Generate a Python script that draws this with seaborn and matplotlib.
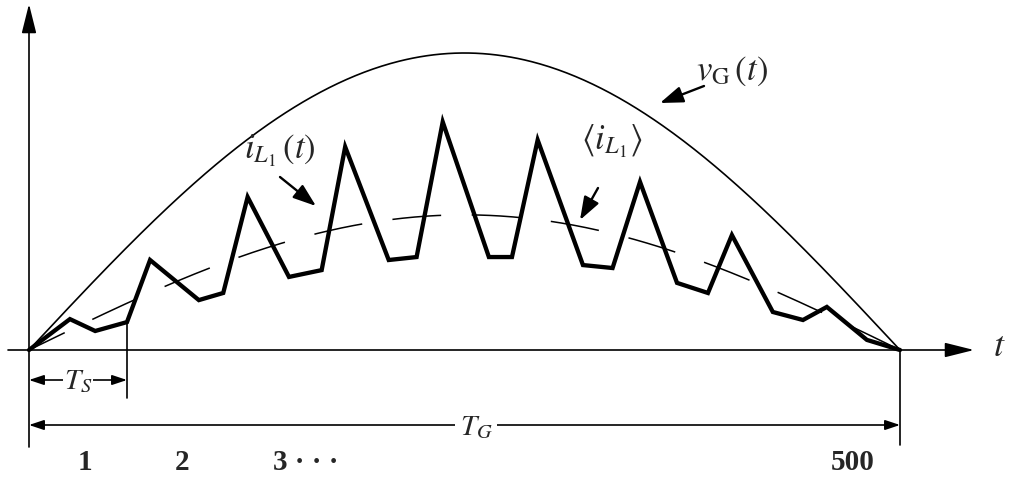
import numpy as np
import matplotlib
matplotlib.use("Agg")
import matplotlib.pyplot as plt
import seaborn as sns

# Inductor current over one half line period, normalised:
# time as a fraction of T_G, amplitude relative to the peak of v_G.
t_zig = [0.000, 0.047, 0.076, 0.1125, 0.139, 0.195, 0.223, 0.251, 0.2985,
         0.336, 0.363, 0.413, 0.445, 0.475, 0.528, 0.5545, 0.584, 0.636,
         0.670, 0.7015, 0.744, 0.7795, 0.807, 0.854, 0.8886, 0.916, 0.962,
         1.000]
i_zig = [0.000, 0.104, 0.064, 0.094, 0.303, 0.168, 0.192, 0.515, 0.246,
         0.269, 0.684, 0.303, 0.313, 0.768, 0.313, 0.313, 0.707, 0.286,
         0.276, 0.566, 0.226, 0.192, 0.387, 0.128, 0.101, 0.145, 0.034,
         0.000]
v_peak = 1.0        # peak of the rectified line voltage
i_avg_peak = 0.455  # peak of the averaged inductor current
period_labels = ["1", "2", "3 \u00b7 \u00b7 \u00b7", "500"]

sns.set_style("white")
plt.rcParams["mathtext.fontset"] = "stix"
plt.rcParams["font.family"] = ["Liberation Serif", "DejaVu Serif"]

# figure geometry: pixel <-> data mapping
W, H = 1014, 482
X0, SX = 29, 871
Y0, SY = 350, 297


def tx(px):
    return (px - X0) / SX


def vy(py):
    return (Y0 - py) / SY


fig = plt.figure(figsize=(W / 100, H / 100), dpi=100)
ax = fig.add_axes([0, 0, 1, 1])
ax.set_xlim(tx(0), tx(W))
ax.set_ylim(vy(H), vy(0))
ax.axis("off")

t_curve = np.linspace(0.0, 1.0, 500)
shape = np.sin(np.pi * t_curve)

sns.lineplot(x=t_curve, y=v_peak * shape, color="black", lw=1.2, ax=ax,
             estimator=None, sort=False)
sns.lineplot(x=t_curve, y=i_avg_peak * shape, color="black", lw=1.1, ax=ax,
             estimator=None, sort=False, linestyle=(6, (32, 20)))
sns.lineplot(x=t_zig, y=i_zig, color="black", lw=3.1, ax=ax,
             estimator=None, sort=False, solid_joinstyle="miter")

# coordinate axes with arrow heads
axis_arrow = dict(arrowstyle="-|>,head_length=1.8,head_width=0.45",
                  lw=1.2, color="black", mutation_scale=10,
                  shrinkA=0, shrinkB=0)
ax.annotate("", xy=(tx(974), 0), xytext=(tx(8), 0), arrowprops=axis_arrow)
ax.annotate("", xy=(0, vy(4)), xytext=(0, vy(447)), arrowprops=axis_arrow)
ax.text(tx(999), vy(347), r"$t$", fontsize=26, ha="center", va="center")

# extension lines for the dimension arrows
ax.plot([1, 1], [0, vy(445)], color="black", lw=1.2)
ax.plot([t_zig[3], t_zig[3]], [i_zig[3], vy(398)], color="black", lw=1.2)

dim_arrow = dict(arrowstyle="<|-|>,head_length=0.9,head_width=0.3",
                 lw=1.2, color="black", mutation_scale=10,
                 shrinkA=0, shrinkB=0)
ax.annotate("", xy=(t_zig[3], vy(380)), xytext=(0, vy(380)),
            arrowprops=dim_arrow)
ax.text(tx(78), vy(382), r"$T_S$", fontsize=21, ha="center", va="center",
        bbox=dict(fc="white", ec="none", pad=0.5))
ax.annotate("", xy=(1, vy(425)), xytext=(0, vy(425)), arrowprops=dim_arrow)
ax.text(tx(476), vy(428), r"$T_G$", fontsize=21, ha="center", va="center",
        bbox=dict(fc="white", ec="none", pad=3))

# switching period numbers
for lbl, px in zip(period_labels, [85, 182, 306, 853]):
    ax.text(tx(px), vy(463), lbl, fontsize=21, fontweight="bold",
            ha="center", va="center")

# curve labels with pointer arrows
lbl_arrow = dict(arrowstyle="-|>,head_length=1.4,head_width=0.5",
                 lw=1.7, color="black", mutation_scale=10,
                 shrinkA=0, shrinkB=0)
ax.text(tx(696), vy(71), r"$v_{\mathrm{G}}\,(t)$", fontsize=25,
        ha="left", va="center")
ax.annotate("", xy=(tx(660), vy(103)), xytext=(tx(704), vy(86)),
            arrowprops=lbl_arrow)
ax.text(tx(244), vy(151), r"$i_{L_1}\,(t)$", fontsize=25,
        ha="left", va="center")
ax.annotate("", xy=(tx(316), vy(206)), xytext=(tx(280), vy(177)),
            arrowprops=lbl_arrow)
ax.text(tx(581), vy(141), r"$\langle i_{L_1}\rangle$", fontsize=25,
        ha="left", va="center")
ax.annotate("", xy=(tx(580), vy(220)), xytext=(tx(598), vy(188)),
            arrowprops=lbl_arrow)

fig.savefig("out.png", dpi=100, facecolor="white")
